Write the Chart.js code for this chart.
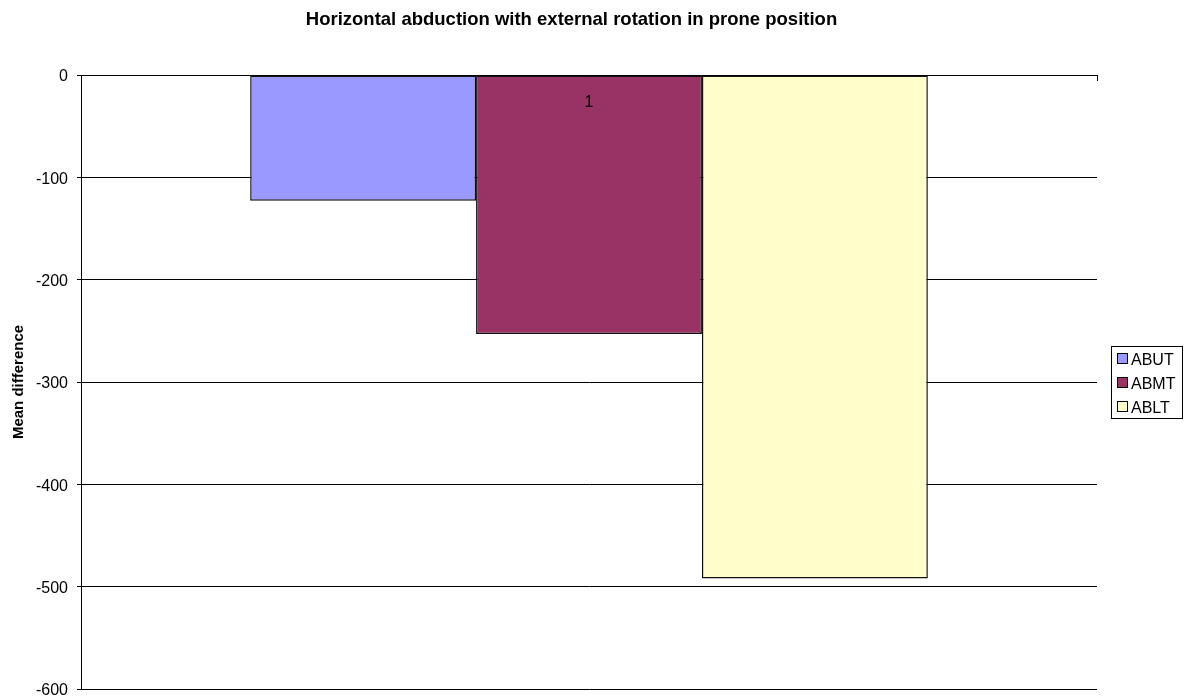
<!DOCTYPE html>
<html>
<head>
<meta charset="utf-8">
<script src="https://cdn.jsdelivr.net/npm/chart.js@4/dist/chart.umd.min.js"></script>
<style>
  html, body { margin: 0; padding: 0; background: #ffffff; }
  canvas { display: block; }
</style>
</head>
<body>
<canvas id="chart" width="1188" height="698"></canvas>
<script>
// Chart data
const categories = ['1'];
const seriesNames = ['ABUT', 'ABMT', 'ABLT'];
const abutValues = [-123];
const abmtValues = [-253];
const abltValues = [-492];
const seriesColors = ['#9999FF', '#993366', '#FFFFCC'];
const yTickValues = [0, -100, -200, -300, -400, -500, -600];
const chartTitle = 'Horizontal abduction with external rotation in prone position';
const yAxisTitle = 'Mean difference';

const FONT = '"Liberation Sans", Arial, Helvetica, sans-serif';

// Chart title, drawn centred above the plot
const titlePlugin = {
  id: 'plotTitle',
  afterDraw(chart) {
    const ctx = chart.ctx;
    ctx.save();
    ctx.font = 'bold 18.5px ' + FONT;
    ctx.fillStyle = '#000';
    ctx.textAlign = 'center';
    ctx.textBaseline = 'alphabetic';
    ctx.fillText(chartTitle, 571.5, 24.5);
    ctx.restore();
  }
};

// Boxed legend to the right of the plot
const boxedLegend = {
  id: 'boxedLegend',
  afterDraw(chart) {
    const ctx = chart.ctx;
    const left = 1111, top = 346, width = 71, height = 72;
    ctx.save();
    ctx.fillStyle = '#fff';
    ctx.fillRect(left, top, width, height);
    ctx.strokeStyle = '#000';
    ctx.lineWidth = 1;
    ctx.strokeRect(left + 0.5, top + 0.5, width, height);
    ctx.font = '16px ' + FONT;
    ctx.textAlign = 'left';
    ctx.textBaseline = 'alphabetic';
    chart.data.datasets.forEach((ds, i) => {
      const cy = 358.5 + i * 24;
      ctx.fillStyle = ds.backgroundColor;
      ctx.fillRect(1117.5, cy - 5, 10, 10);
      ctx.strokeStyle = '#000';
      ctx.strokeRect(1117.5, cy - 5, 10, 10);
      ctx.fillStyle = '#000';
      ctx.fillText(ds.label, 1131, cy + 6);
    });
    ctx.restore();
  }
};

const seriesValues = [abutValues, abmtValues, abltValues];

new Chart(document.getElementById('chart'), {
  type: 'bar',
  data: {
    labels: categories,
    datasets: seriesNames.map((name, i) => ({
      label: name,
      data: seriesValues[i],
      backgroundColor: seriesColors[i],
      borderColor: '#111111',
      borderWidth: 1.5,
      borderSkipped: false,
      categoryPercentage: 0.667,
      barPercentage: 1.0
    }))
  },
  options: {
    responsive: false,
    animation: false,
    devicePixelRatio: 1,
    layout: { padding: { top: 75, left: 0, right: 91, bottom: 9 } },
    plugins: {
      legend: { display: false },
      title: { display: false },
      tooltip: { enabled: false }
    },
    scales: {
      x: {
        position: { y: 0 },
        afterFit(scale) { scale.height = 0; },
        grid: {
          display: true,
          drawOnChartArea: false,
          drawTicks: true,
          tickLength: 5,
          color: '#000',
          offset: true
        },
        border: { display: true, color: '#000', width: 1 },
        ticks: {
          z: 1,
          color: '#000',
          padding: 13,
          font: { family: FONT, size: 16 }
        }
      },
      y: {
        min: -600,
        max: 0,
        afterBuildTicks(scale) {
          scale.ticks = yTickValues.map(v => ({ value: v }));
        },
        afterFit(scale) {
          scale.width = 81;
          scale.paddingTop = 0;
          scale.paddingBottom = 0;
        },
        grid: {
          color: '#000',
          lineWidth: 1,
          tickLength: 4,
          drawTicks: true
        },
        border: { display: true, color: '#000', width: 1 },
        ticks: {
          color: '#000',
          padding: 9,
          labelOffset: 2,
          font: { family: FONT, size: 16 }
        },
        title: {
          display: true,
          text: yAxisTitle,
          color: '#000',
          font: { family: FONT, size: 15, weight: 'bold' },
          padding: { top: 10, bottom: 0 }
        }
      }
    }
  },
  plugins: [titlePlugin, boxedLegend]
});
</script>
</body>
</html>
